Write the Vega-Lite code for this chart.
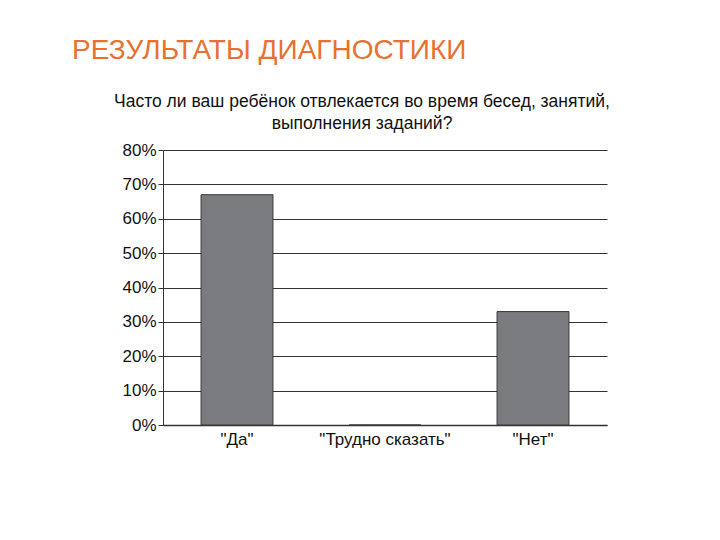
{
  "$schema": "https://vega.github.io/schema/vega-lite/v6.json",
  "background": "white",
  "padding": {"left": 72, "top": 36, "right": 20, "bottom": 10},
  "title": {
    "text": "РЕЗУЛЬТАТЫ ДИАГНОСТИКИ",
    "anchor": "start",
    "dx": -42,
    "font": "Liberation Sans",
    "fontSize": 28,
    "fontWeight": "normal",
    "color": "#E8712F",
    "offset": 28
  },
  "config": {
    "view": {"stroke": null},
    "concat": {"spacing": 0}
  },
  "vconcat": [
    {
      "width": 444,
      "height": 275,
      "title": {
        "text": ["Часто ли ваш ребёнок отвлекается во время бесед, занятий,", "выполнения заданий?"],
        "anchor": "middle",
        "dx": -23,
        "font": "Liberation Sans",
        "fontSize": 17.5,
        "fontWeight": "normal",
        "color": "#111111",
        "lineHeight": 22,
        "offset": 9
      },
      "data": {
        "values": [
          {"answer": "\"Да\"", "share": 0.67},
          {"answer": "\"Трудно сказать\"", "share": 0},
          {"answer": "\"Нет\"", "share": 0.33}
        ]
      },
      "mark": {"type": "bar", "color": "#797B7E", "stroke": "#3a3a3a", "strokeWidth": 1},
      "encoding": {
        "x": {
          "field": "answer",
          "type": "nominal",
          "sort": null,
          "scale": {"paddingInner": 0.514, "paddingOuter": 0.257},
          "axis": {
            "title": null,
            "labelAngle": 0,
            "labelFont": "Liberation Sans",
            "labelFontSize": 17,
            "labelColor": "#111111",
            "labelPadding": 6,
            "ticks": false,
            "domainColor": "#333333",
            "domainWidth": 1.5
          }
        },
        "y": {
          "field": "share",
          "type": "quantitative",
          "scale": {"domain": [0, 0.8]},
          "axis": {
            "title": null,
            "format": ".0%",
            "values": [0, 0.1, 0.2, 0.3, 0.4, 0.5, 0.6, 0.7, 0.8],
            "labelFont": "Liberation Sans",
            "labelFontSize": 17,
            "labelColor": "#111111",
            "labelPadding": 2,
            "tickSize": 5,
            "tickColor": "#333333",
            "domainColor": "#333333",
            "grid": true,
            "gridColor": "#333333",
            "gridWidth": 1,
            "gridOpacity": 1
          }
        }
      }
    }
  ]
}
